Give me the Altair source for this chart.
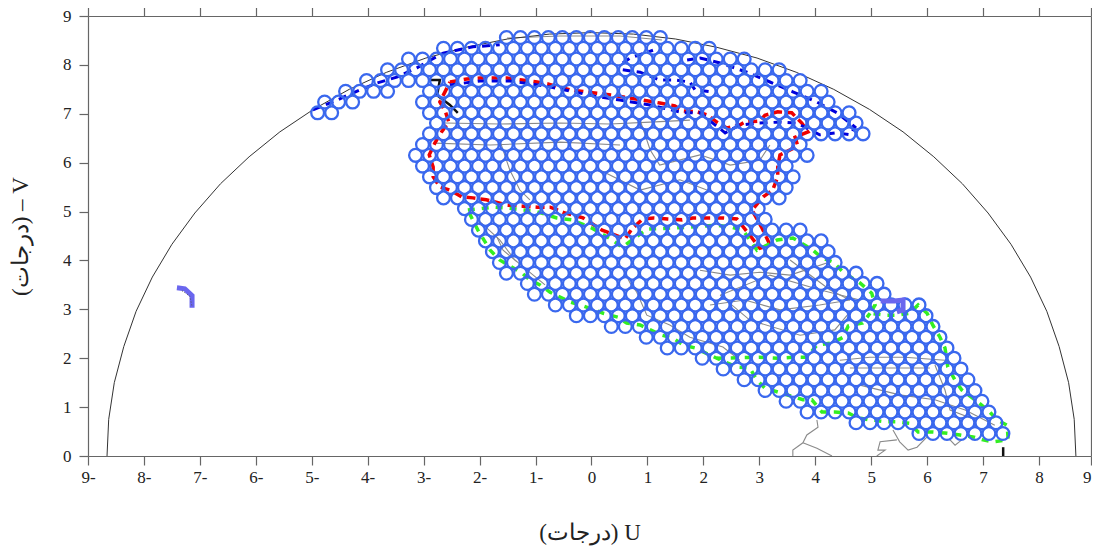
import altair as alt
import pandas as pd

# Lattice of beam circles: one run per row (v, first u, last u), step read as 0.25 deg
row_v = [0.46,0.68,0.90,1.12,1.34,1.56,1.78,2.00,2.21,2.43,2.65,2.87,3.09,3.31,3.53,3.74,3.96,4.18,4.40,
         4.62,4.84,5.06,5.28,5.49,5.71,5.93,6.15,6.37,6.59,6.81,7.02,7.24,7.46,7.68,7.90,8.12,8.34,8.56,
         7.02,7.24,7.46]
row_first = [5.855,4.73,3.855,3.48,3.105,2.73,2.355,1.98,1.355,0.98,0.355,-0.27,-0.645,-1.02,-1.145,-1.52,-1.645,-1.77,-1.895,
             -2.02,-2.145,-2.27,-2.645,-2.77,-2.895,-3.02,-3.145,-3.02,-2.895,-2.77,-2.895,-3.02,-2.895,-4.02,-3.645,-3.27,-2.645,-1.52,
             -4.895,-4.77,-4.395]
row_last = [7.355,7.23,7.105,6.98,6.855,6.73,6.605,6.48,6.355,6.23,6.105,5.98,5.855,5.23,5.105,4.73,4.355,4.23,4.105,
            3.73,3.105,2.98,3.355,3.48,3.605,3.48,3.855,3.73,4.855,4.73,4.605,4.23,4.105,3.73,3.355,2.73,2.105,1.23,
            -4.645,-4.27,-3.645]
col_step = 0.25

red_u = [-2.53,-2.23,-1.99,-1.76,-1.51,-1.24,-0.97,-0.78,-0.38,-0.12,0.10,0.39,0.69,0.92,1.22,1.49,1.64,1.89,2.08,2.24,2.42,2.65,2.74,3.01,3.10,3.33,3.58,3.76,3.87,3.64,3.69,3.37,3.33,3.33,3.24,3.07,2.87,3.05,3.19,3.01,2.87,2.60,2.35,1.81,1.62,1.36,1.11,0.92,0.72,0.60,0.19,-0.15,-0.47,-0.74,-0.97,-1.23,-1.50,-1.88,-2.12,-2.32,-2.53,-2.71,-2.83,-2.83,-2.90,-2.80,-2.68,-2.55,-2.61,-2.71,-2.53]
red_v = [7.65,7.71,7.73,7.73,7.73,7.69,7.65,7.61,7.49,7.45,7.42,7.38,7.32,7.28,7.22,7.16,7.06,7.04,6.97,6.83,6.71,6.77,6.83,6.85,6.97,7.04,7.02,6.81,6.63,6.52,6.34,6.16,5.91,5.71,5.44,5.30,5.03,4.66,4.32,4.25,4.46,4.85,4.87,4.87,4.83,4.85,4.87,4.85,4.64,4.44,4.62,4.87,4.97,5.09,5.09,5.11,5.13,5.24,5.28,5.30,5.44,5.50,5.71,5.91,6.16,6.40,6.63,6.83,7.04,7.24,7.65]

green_u = [-2.21,-1.76,-1.49,-1.22,-1.01,-0.62,-0.35,0.01,0.37,0.55,0.99,1.73,2.24,2.51,2.71,2.83,2.96,3.32,3.60,3.96,4.12,4.32,4.50,4.80,5.01,5.07,4.98,5.25,5.46,5.69,5.84,6.00,6.10,6.23,6.32,6.37,6.50,6.62,6.91,7.12,7.25,7.43,7.45,7.18,7.00,6.82,6.59,6.32,6.10,5.84,5.69,5.46,5.25,4.98,4.76,4.59,4.35,4.12,3.94,3.78,3.33,3.10,2.96,2.83,2.60,2.24,1.85,1.64,1.46,1.26,0.87,0.63,0.47,0.21,-0.15,-0.38,-0.74,-0.92,-1.10,-1.24,-1.64,-1.81,-2.03,-2.21]
green_v = [5.03,5.09,5.07,5.03,5.01,4.87,4.83,4.66,4.42,4.27,4.64,4.68,4.72,4.68,4.62,4.42,4.21,4.42,4.46,4.21,4.05,3.97,3.76,3.54,3.33,3.09,2.92,2.88,2.88,2.92,3.09,2.92,2.68,2.43,2.21,1.82,1.55,1.35,1.10,0.90,0.74,0.63,0.33,0.29,0.33,0.39,0.43,0.47,0.49,0.49,0.67,0.70,0.70,0.74,0.78,0.88,0.90,0.90,1.15,1.15,1.31,1.39,1.55,1.80,1.82,2.00,2.21,2.27,2.41,2.47,2.68,2.72,2.84,2.92,3.07,3.15,3.35,3.50,3.60,3.74,4.01,4.21,4.62,5.03]
green2_u = [2.24,3.00,3.33,3.60,3.85,4.03,4.30,4.50,4.59,4.85,4.98]
green2_v = [2.00,2.02,2.00,2.02,2.02,2.27,2.31,2.43,2.66,2.72,2.92]

blue_paths = {
    "wing": ([-4.98,-4.55,-4.14,-3.83,-3.48,-3.12,-2.94,-2.65,-2.12,-1.64],
             [7.08,7.28,7.49,7.63,7.75,7.94,8.06,8.24,8.37,8.41]),
    "north": ([-2.53,-1.99,-1.46,-0.83,0.06,0.51,1.05,1.64,1.94,2.17,2.39,2.65,2.98,3.37,3.67,4.08,4.39,4.62,4.71,4.39,4.03,3.60,3.19,2.78,2.30,1.94,1.71],
              [7.59,7.67,7.67,7.57,7.36,7.28,7.18,7.02,7.02,6.81,6.61,6.77,6.81,6.83,6.81,6.57,6.61,6.57,6.73,7.02,7.24,7.45,7.65,7.85,8.04,8.14,8.10]),
    "upper": ([0.56,0.69,1.10], [8.04,8.14,8.30]),
    "inner": ([0.56,0.87,1.22,1.49,1.76,1.85,2.12], [7.90,7.85,7.69,7.69,7.65,7.49,7.45]),
}

arc_u = [-8.66,-8.63,-8.53,-8.36,-8.14,-7.85,-7.50,-7.09,-6.63,-6.12,-5.57,-4.97,-4.33,-3.66,-2.96,-2.24,-1.50,-0.75,0,
         0.75,1.50,2.24,2.96,3.66,4.33,4.97,5.57,6.12,6.63,7.09,7.50,7.85,8.14,8.36,8.53,8.63,8.66]
arc_v = [0,0.75,1.50,2.24,2.96,3.66,4.33,4.97,5.57,6.12,6.63,7.09,7.50,7.85,8.14,8.36,8.53,8.63,8.66,
         8.63,8.53,8.36,8.14,7.85,7.50,7.09,6.63,6.12,5.57,4.97,4.33,3.66,2.96,2.24,1.50,0.75,0]

map_gray = [
    ([-2.62,-1.64,-0.56,0.33,1.05,1.76],[6.81,6.79,6.81,6.79,6.83,6.87]),
    ([-2.80,-1.81,-0.56,0.51],[6.40,6.36,6.42,6.36]),
    ([0.87,1.05,1.22,1.94,2.48,3.01,3.19],[6.87,6.26,5.95,6.16,5.95,6.05,6.36]),
    ([-1.64,-1.46,-1.28,-1.10],[6.46,5.85,5.44,5.24]),
    ([-2.03,-1.64,-1.37,-0.83],[4.83,4.42,4.01,3.50]),
    ([-1.69,-1.58,-1.33],[4.48,4.21,3.97]),
    ([0.55,0.69,0.81,0.99,1.40,1.76,2.35,2.65],[3.85,3.54,3.35,2.88,2.68,2.43,2.23,1.96]),
    ([4.44,4.98,5.60,6.32],[1.96,2.02,2.02,1.96]),
    ([4.62,5.34,6.05],[1.80,1.80,1.80]),
    ([2.30,3.19,4.08,4.80,4.35,3.73,2.83,2.30],[3.29,3.70,3.40,3.19,2.58,2.47,2.78,3.29]),
    ([1.94,2.48,3.01,3.55,4.26],[3.80,3.70,3.76,3.70,3.97]),
    ([2.12,2.74,3.37,4.08,4.62],[3.09,3.19,2.99,3.09,3.19]),
    ([4.80,5.51,6.14,6.68,7.21],[1.45,1.25,1.15,0.94,0.63]),
    ([6.14,6.32,6.41,6.86],[1.86,1.35,0.94,0.74]),
    ([4.03,4.05,3.85,3.78,3.60,3.60],[0.74,0.59,0.43,0.27,0.12,0]),
    ([3.78,4.03,4.30],[0.27,0.16,0]),
    ([5.39,5.51,5.66,5.82,6.00],[0.53,0.29,0.12,0.18,0.39]),
    ([5.46,5.16,5.12,5.25,5.10],[0.33,0.29,0.12,0.12,0]),
    ([6.41,6.50,6.62],[0.33,0.22,0.33]),
    ([3.55,4.26,4.62],[4.01,3.40,3.19]),
    ([0.15,0.87,1.58,2.30],[5.85,5.44,5.65,5.34]),
    ([-1.51,-0.56,0.51,1.26],[8.55,8.59,8.59,8.51]),
]
map_black = [
    ([-2.89,-2.71,-2.76,-2.53,-2.39],[7.69,7.69,7.38,7.18,7.02]),
    ([7.36,7.36],[0.18,0]),
]
lav_paths = [
    ([-7.41,-7.27,-7.14,-7.14],[3.44,3.42,3.28,3.03]),
    ([5.17,5.42,5.57,5.57,5.46],[3.17,3.17,3.19,2.99,2.95]),
]
lav_core_u = [-7.32,-7.18,-7.14]
lav_core_v = [3.38,3.27,3.06]

x_end = 8.93  # the page cuts the frame here; its last tick carries the label 9
x_ticks = list(range(-9, 9)) + [x_end]
y_ticks = list(range(0, 10))

FONT = "Liberation Serif"
xs = alt.Scale(domain=[-9, x_end], nice=False, zero=False)
ys = alt.Scale(domain=[0, 9], nice=False, zero=False)
LABEL = "datum.value < 0 ? abs(datum.value) + '-' : round(datum.value) + ''"


def frame(u, v, pid=0):
    return pd.DataFrame({"u": u, "v": v, "i": range(len(u)), "p": pid})


def frames(paths):
    return pd.concat([frame(u, v, n) for n, (u, v) in enumerate(paths)], ignore_index=True)


def line(df, color, width, dash=None):
    kw = {"strokeDash": dash} if dash else {}
    return alt.Chart(df).mark_line(color=color, strokeWidth=width, clip=True, **kw).encode(
        x=alt.X("u:Q", scale=xs, axis=None),
        y=alt.Y("v:Q", scale=ys, axis=None),
        detail="p:N",
        order="i:Q",
    )


pts_u, pts_v = [], []
for v, a, b in zip(row_v, row_first, row_last):
    for j in range(int(round((b - a) / col_step)) + 1):
        pts_u.append(a + j * col_step)
        pts_v.append(v)
rings_df = pd.DataFrame({"u": pts_u, "v": pts_v})

rings = alt.Chart(rings_df).mark_point(
    shape="circle", filled=False, size=165, stroke="#3A68EE", strokeWidth=2.3, opacity=1
).encode(x=alt.X("u:Q", scale=xs, axis=None), y=alt.Y("v:Q", scale=ys, axis=None))

ax_df = pd.DataFrame({"u": [0.0], "v": [0.0]})
axis_style = dict(
    grid=False, domainColor="#666666", domainWidth=1.2, tickColor="#666666", tickWidth=1.2, tickSize=9,
)
bottom_left = alt.Chart(ax_df).mark_point(opacity=0).encode(
    x=alt.X("u:Q", scale=xs, axis=alt.Axis(
        values=x_ticks, labelExpr=LABEL, labelFont=FONT, labelFontSize=17, labelColor="#222222", labelPadding=4,
        labelFlush=False, labelOverlap=False, labelBound=False, labelAngle=0,
        labelAlign=alt.expr("datum.value > 8.5 ? 'right' : 'center'"),
        title="(درجات) U", titleFont=FONT, titleFontSize=23, titleFontWeight="normal", titleColor="#222222",
        titlePadding=36, **axis_style)),
    y=alt.Y("v:Q", scale=ys, axis=alt.Axis(
        values=y_ticks, labelExpr=LABEL, labelFont=FONT, labelFontSize=17, labelColor="#222222", labelPadding=8,
        labelFlush=False, labelOverlap=False, labelBound=False,
        title="(درجات) – V", titleFont=FONT, titleFontSize=23, titleFontWeight="normal", titleColor="#222222",
        titlePadding=30, **axis_style)),
)
top_right = alt.Chart(ax_df).mark_point(opacity=0).encode(
    x=alt.X("u:Q", scale=xs, axis=alt.Axis(orient="top", values=x_ticks, labels=False, title=None, **axis_style)),
    y=alt.Y("v:Q", scale=ys, axis=alt.Axis(orient="right", values=y_ticks, labels=False, tickSize=0, title=None,
                                           grid=False, domainColor="#666666", domainWidth=1.2)),
)

chart = alt.layer(
    bottom_left,
    top_right,
    line(frames(map_gray), "#8a8a8a", 1.1),
    line(frames(map_black), "#111111", 2.5),
    line(frame(arc_u, arc_v), "#333333", 1),
    line(frame(red_u, red_v), "#EE0000", 3.5, [9, 5]),
    line(frames([(green_u, green_v), (green2_u, green2_v)]), "#33EE22", 3.5, [7, 7]),
    line(frames([p for p in blue_paths.values()]), "#0000DD", 3, [8, 6]),
    rings,
    line(frames(lav_paths), "#6A66EE", 5),
    line(frame(lav_core_u, lav_core_v), "#555555", 1, [1, 2]),
).resolve_axis(x="independent", y="independent").properties(
    width=1003,
    height=440,
    autosize=alt.AutoSizeParams(type="none"),
    padding={"left": 80, "top": 8, "right": 1, "bottom": 91},
).configure_view(stroke=None)

chart.save("out.html", embed_options={"renderer": "svg", "actions": False})
